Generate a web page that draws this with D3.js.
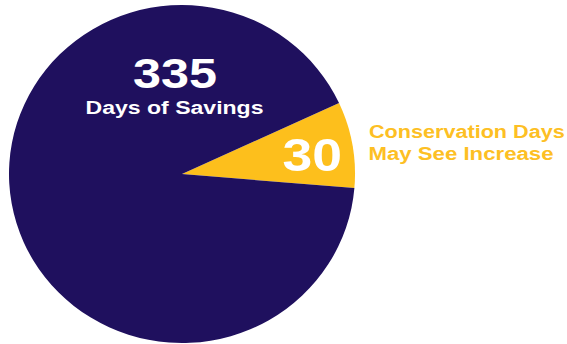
<!DOCTYPE html>
<html>
<head>
<meta charset="utf-8">
<script src="https://cdn.jsdelivr.net/npm/d3@7/dist/d3.min.js"></script>
<style>
  html, body { margin: 0; padding: 0; background: #ffffff; }
  svg { display: block; }
  text { font-family: "Liberation Sans", Arial, Helvetica, sans-serif; font-weight: bold; }
</style>
</head>
<body>
<script>
// Days of the year split between conservation days and savings days
const categories = ["Conservation Days", "Days of Savings"];
const values = [30, 335];
const captionLines = ["Conservation Days", "May See Increase"];
const colors = ["#fdbf1c", "#1f105e"];

const width = 567, height = 344;
const cx = 182, cy = 174, radius = 169;
const xStretch = 1.0237;
const startDeg = 65.2;

const svg = d3.select("body").append("svg")
  .attr("width", width)
  .attr("height", height);

const pie = d3.pie()
  .sort(null)
  .value(d => d)
  .startAngle(startDeg * Math.PI / 180)
  .endAngle(startDeg * Math.PI / 180 + 2 * Math.PI);

const arcs = pie(values);
const arc = d3.arc().innerRadius(0).outerRadius(radius);

svg.append("g")
  .attr("transform", `translate(${cx},${cy}) scale(${xStretch},1)`)
  .selectAll("path")
  .data(arcs)
  .join("path")
  .attr("d", arc)
  .attr("fill", (d, i) => colors[i]);

// Wide, bold label text: glyphs stretched to a set run length
function label(x, y, size, len, fill, str) {
  return svg.append("text")
    .attr("x", x).attr("y", y)
    .attr("font-size", size)
    .attr("fill", fill)
    .attr("textLength", len)
    .attr("lengthAdjust", "spacingAndGlyphs")
    .text(str);
}

// Savings slice: value and caption
label(133, 87.5, 43, 84, "#ffffff", values[1]);
label(85.5, 114, 17.6, 178, "#ffffff", categories[1]);

// Conservation slice: value inside the wedge
label(282.5, 170.7, 47, 59.5, "#ffffff", values[0]);

// Caption beside the pie
label(369, 137.7, 17.5, 195.7, "#fdbf24", captionLines[0]);
label(368.5, 160.2, 17.5, 185, "#fdbf24", captionLines[1]);
</script>
</body>
</html>
